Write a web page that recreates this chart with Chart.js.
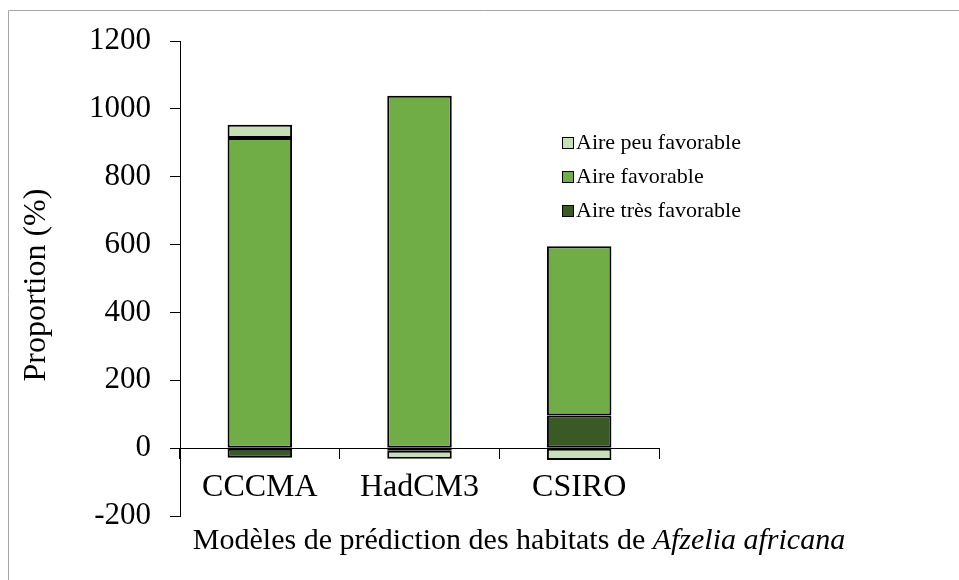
<!DOCTYPE html>
<html>
<head>
<meta charset="utf-8">
<script src="https://cdn.jsdelivr.net/npm/chart.js@4.4.1/dist/chart.umd.min.js"></script>
<style>
  html, body { margin: 0; padding: 0; background: #ffffff; }
  #wrap { position: relative; width: 959px; height: 580px; }
</style>
</head>
<body>
<div id="wrap"><canvas id="c" width="959" height="580"></canvas></div>
<script>
// ---- data ----
const categories = ['CCCMA', 'HadCM3', 'CSIRO'];
const seriesNames = ['Aire très favorable', 'Aire favorable', 'Aire peu favorable'];
const tresFavorable = [-28, -8, 96];
const favorable = [914, 1039, 499];
const peuFavorable = [39, -23, -35];
const yMin = -200, yMax = 1200, yStep = 200;
const yTitle = 'Proportion (%)';
const xTitlePlain = 'Modèles de prédiction des habitats de ';
const xTitleItalic = 'Afzelia africana';

const colors = ['#3A5A25', '#70AD47', '#C5E0B4'];
const serif = '"Liberation Serif", "Times New Roman", serif';

const extras = {
  id: 'extras',
  afterDraw(chart) {
    const ctx = chart.ctx;
    ctx.save();
    // outer frame (cut by the window on right and bottom)
    ctx.strokeStyle = '#A6A6A6';
    ctx.lineWidth = 1;
    ctx.beginPath();
    ctx.moveTo(8.5, 580);
    ctx.lineTo(8.5, 10.5);
    ctx.lineTo(959, 10.5);
    ctx.stroke();

    // y axis title
    ctx.fillStyle = '#000';
    ctx.font = '32px ' + serif;
    ctx.textAlign = 'center';
    ctx.textBaseline = 'middle';
    ctx.save();
    ctx.translate(37, 285);
    ctx.rotate(-Math.PI / 2);
    ctx.fillText(yTitle, 0, 0);
    ctx.restore();

    // x axis title (mixed roman / italic)
    const fPlain = '30px ' + serif;
    const fItal = 'italic 30px ' + serif;
    ctx.font = fPlain;
    const w1 = ctx.measureText(xTitlePlain).width;
    ctx.font = fItal;
    const w2 = ctx.measureText(xTitleItalic).width;
    const cx = 519;
    let x0 = cx - (w1 + w2) / 2;
    ctx.textAlign = 'left';
    ctx.textBaseline = 'middle';
    ctx.font = fPlain;
    ctx.fillText(xTitlePlain, x0, 541);
    ctx.font = fItal;
    ctx.fillText(xTitleItalic, x0 + w1, 541);

    // legend (reverse order, as in the reference)
    const ds = chart.data.datasets;
    ctx.font = '22px ' + serif;
    ctx.textBaseline = 'middle';
    const rows = [ds[2], ds[1], ds[0]];
    rows.forEach((d, i) => {
      const y = 143 + i * 34;
      ctx.fillStyle = d.backgroundColor;
      ctx.fillRect(562, y - 6, 12, 12);
      ctx.strokeStyle = '#000';
      ctx.lineWidth = 1;
      ctx.strokeRect(562.5, y - 5.5, 11, 11);
      ctx.fillStyle = '#000';
      ctx.fillText(d.label, 576, y);
    });
    ctx.restore();
  }
};

new Chart(document.getElementById('c'), {
  type: 'bar',
  data: {
    labels: categories,
    datasets: [
      { label: seriesNames[0], data: tresFavorable, backgroundColor: colors[0] },
      { label: seriesNames[1], data: favorable, backgroundColor: colors[1] },
      { label: seriesNames[2], data: peuFavorable, backgroundColor: colors[2] }
    ].map(d => Object.assign(d, {
      borderColor: '#000', borderWidth: 2, borderSkipped: false,
      barPercentage: 0.404, categoryPercentage: 1.0
    }))
  },
  options: {
    responsive: false,
    animation: false,
    devicePixelRatio: 1,
    layout: { padding: { top: 41, bottom: 64, left: 0, right: 300 } },
    plugins: { legend: { display: false }, tooltip: { enabled: false }, title: { display: false } },
    scales: {
      x: {
        stacked: true,
        position: { y: 0 },
        grid: { drawOnChartArea: false, drawTicks: true, tickLength: 10, color: '#000', offset: true, lineWidth: 1 },
        border: { display: true, color: '#000', width: 1 },
        ticks: { color: '#000', font: { family: serif, size: 32 }, padding: 10 }
      },
      y: {
        stacked: true,
        min: yMin, max: yMax,
        afterFit(scale) { scale.width = 180; },
        grid: { drawOnChartArea: false, drawTicks: true, tickLength: 10, color: '#000', lineWidth: 1 },
        border: { display: true, color: '#000', width: 1 },
        ticks: {
          stepSize: yStep, color: '#000', font: { family: serif, size: 31 }, padding: 19,
          callback: (v) => String(v)
        }
      }
    }
  },
  plugins: [extras]
});
</script>
</body>
</html>
